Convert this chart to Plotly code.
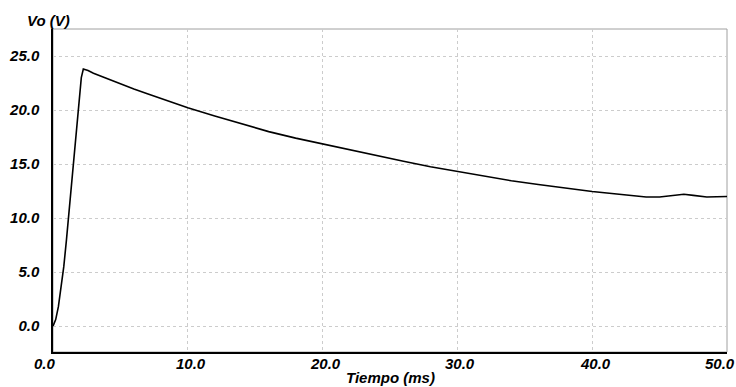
import plotly.graph_objects as go

t_ms = [0, 0.2, 0.4, 0.6, 0.8, 1.0, 1.4, 1.8, 2.1, 2.25, 2.6, 3, 4, 5, 6, 7, 8, 9, 10, 12, 14, 16, 18,
        20, 22, 24, 26, 28, 30, 32, 34, 36, 38, 40, 42, 43, 44, 45, 46, 46.8, 47.5, 48.5, 50]
vo = [0, 0.6, 1.8, 3.5, 5.5, 8.0, 13.5, 19.0, 23.0, 23.8, 23.65, 23.4, 22.9, 22.45, 21.95, 21.5, 21.05,
      20.6, 20.2, 19.45, 18.7, 18.0, 17.4, 16.85, 16.3, 15.75, 15.25, 14.75, 14.3, 13.85, 13.45,
      13.1, 12.75, 12.45, 12.2, 12.05, 11.95, 11.95, 12.1, 12.2, 12.1, 11.95, 12.0]

x_ticks = [0, 10, 20, 30, 40, 50]
y_ticks = [0, 5, 10, 15, 20, 25]

FONT = "Liberation Sans, Arial, sans-serif"
lblfont = dict(family=FONT, size=15, color="black", weight="bold", style="italic")

fig = go.Figure(go.Scatter(x=t_ms, y=vo, mode="lines",
                           line=dict(color="black", width=1.6)))

annotations = [
    dict(text="Vo (V)", xref="paper", yref="paper", x=-0.006, y=1.0, yshift=9,
         xanchor="center", yanchor="middle", showarrow=False, font=lblfont),
    dict(text="Tiempo (ms)", xref="paper", yref="paper", x=0.5, y=0, yshift=-25,
         xanchor="center", yanchor="middle", showarrow=False, font=lblfont),
]
for i, v in enumerate(x_ticks):
    if i == 0:
        anchor, shift = "center", -8
    elif i == len(x_ticks) - 1:
        anchor, shift = "right", 10
    else:
        anchor, shift = "center", 3
    annotations.append(dict(
        text=f"{v:.1f}", xref="x", yref="paper", x=v, y=0, yshift=-11,
        xanchor=anchor, xshift=shift,
        yanchor="middle", showarrow=False, font=lblfont))

fig.update_layout(
    width=736, height=387,
    margin=dict(l=53, r=9, t=29, b=35),
    paper_bgcolor="white", plot_bgcolor="white",
    showlegend=False,
    xaxis=dict(range=[0, 50], tickvals=x_ticks, showticklabels=False,
               showgrid=True, gridcolor="#cccccc", griddash="dot", gridwidth=1,
               showline=True, linecolor="black", linewidth=1.5, zeroline=False,
               ticks="", automargin=False),
    yaxis=dict(range=[-2.4, 27.5], tickvals=y_ticks, ticktext=[f"{v:.1f}" for v in y_ticks],
               showgrid=True, gridcolor="#cccccc", griddash="dot", gridwidth=1,
               showline=True, linecolor="black", linewidth=1.5, zeroline=False,
               ticks="", ticklen=0, tickfont=lblfont, ticklabelstandoff=9,
               automargin=False),
    shapes=[dict(type="rect", xref="paper", yref="paper", x0=0, y0=0, x1=1, y1=1,
                 line=dict(color="#a0a0a0", width=1), layer="below")],
    annotations=annotations,
)

fig.write_html("out.html")
